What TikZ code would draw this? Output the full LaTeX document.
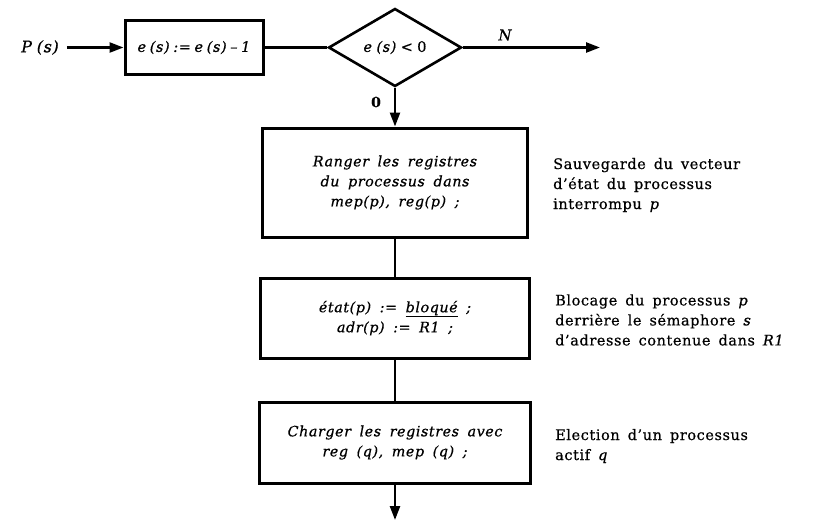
\documentclass[tikz,border=0pt]{standalone}
\usepackage{fontspec}
\setmainfont{DejaVu Serif}[FakeBold=0.6]
\usetikzlibrary{arrows.meta,shapes.geometric}

% spaced-out setting of the flowchart texts
\newcommand\spacedfont[2]{\fontsize{#1}{20}\selectfont\addfontfeature{LetterSpace=4}\spaceskip=#2em plus 0.1em\relax}

\tikzset{
  box/.style={draw, line width=3pt, rectangle, inner sep=2pt, align=center,
              font=\spacedfont{14.3}{0.6}\itshape},
  cond/.style={draw, line width=2.6pt, diamond, inner sep=0pt,
               minimum width=133pt, minimum height=78pt, font=\spacedfont{14.5}{0.3}\itshape},
  note/.style={anchor=west, align=left, inner sep=0pt, font=\spacedfont{14.5}{0.55}},
  lbl/.style={inner sep=0pt},
  flow/.style={line width=2.4pt},
  arr/.style={line width=2.4pt, -{Triangle[length=14pt,width=10pt]}},
}

\begin{document}
\begin{tikzpicture}[x=1pt,y=-1pt]
  \useasboundingbox (0,0) rectangle (813,520);

  % entry and first decrement
  \node[lbl, font=\spacedfont{16}{0.3}\itshape] (ps) at (40,47.5) {P (s)};
  \node[box, minimum width=138pt, minimum height=54pt, inner sep=1pt,
        font=\spacedfont{14.5}{0.25}\itshape] (dec) at (194,47.5)
       {e (s) := e (s) – 1};
  \node[cond] (test) at (395,47.5) {e (s) {\upshape <} {\upshape 0}};
  \coordinate (nout) at (600,47.5);
  \node[lbl, font=\spacedfont{15}{0.3}\itshape] (nlab) at (505,35) {N};
  \node[lbl, font=\spacedfont{14}{0.3}\bfseries] (zlab) at (376,102) {0};

  % main sequence of actions
  \node[box, minimum width=265pt, minimum height=109pt] (save) at (395,182.5)
       {Ranger les registres\\du processus dans\\mep(p), reg(p) ;};
  \node[box, minimum width=269pt, minimum height=80pt] (block) at (395,318)
       {état(p) := \underline{bloqué} ;\\adr(p) := R1 ;};
  \node[box, minimum width=271pt, minimum height=81pt] (load) at (395,442.5)
       {Charger les registres avec\\reg (q), mep (q) ;};
  \coordinate (out) at (395,520);

  % comments on the right
  \node[note] (c1) at (553,185)
       {Sauvegarde du vecteur\\d'état du processus\\interrompu \textit{p}};
  \node[note] (c2) at (555,320)
       {Blocage du processus \textit{p}\\derrière le sémaphore \textit{s}\\d'adresse contenue dans \textit{R1}};
  \node[note] (c3) at (555,446)
       {Election d'un processus\\actif \textit{q}};

  % connectors
  \draw[arr] (ps.east) ++(8,0) -- (dec.west);
  \draw[flow] (dec.east) -- (test.west);
  \draw[arr] (test.east) -- (nout);
  \draw[arr] (test.south) -- (save.north);
  \draw[flow] (save.south) -- (block.north);
  \draw[flow] (block.south) -- (load.north);
  \draw[arr] (load.south) -- (out);
\end{tikzpicture}
\end{document}
